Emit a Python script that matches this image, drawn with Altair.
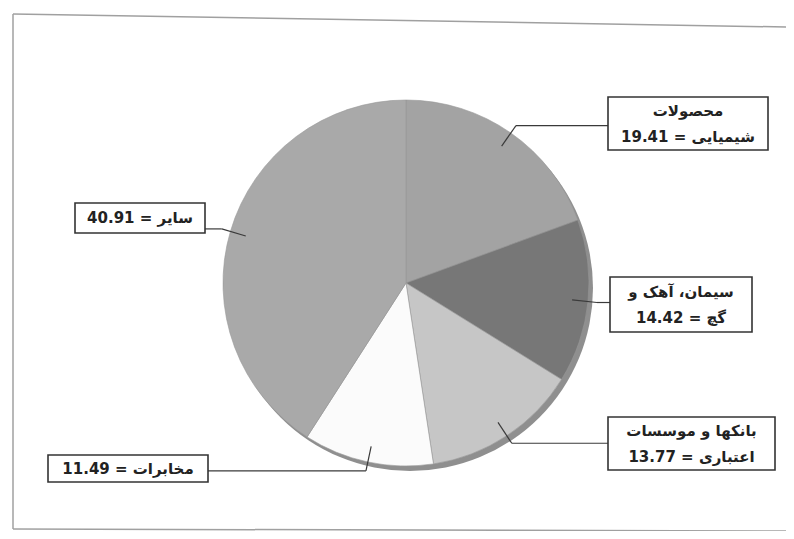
import math
import altair as alt
import pandas as pd

# ---- data ----
labels = ["محصولات شیمیایی", "سیمان، آهک و گچ", "بانکها و موسسات اعتباری", "مخابرات", "سایر"]
label_text = [
    "محصولات\nشیمیایی = 19.41",
    "سیمان، آهک و\nگچ = 14.42",
    "بانکها و موسسات\nاعتباری = 13.77",
    "مخابرات = 11.49",
    "سایر = 40.91",
]
values = [19.41, 14.42, 13.77, 11.49, 40.91]

# ---- styles / layout (page pixel coordinates) ----
colors = ["#a3a3a3", "#777777", "#c6c6c6", "#fbfbfb", "#a9a9a9"]
cx, cy, R = 406, 283, 183
box_x0 = [608, 610, 608, 48, 75]
box_x1 = [768, 752, 775, 208, 205]
box_y0 = [97, 277, 417, 455, 203]
box_y1 = [150, 332, 470, 482, 233]
side = ["right", "right", "right", "left", "left"]
line_h = 26

W, H = 778, 523
xs = alt.Scale(domain=[8, 8 + W], range=[0, W], nice=False, zero=False)
ys = alt.Scale(domain=[8, 8 + H], range=[0, H], nice=False, zero=False)

total = sum(values)
df = pd.DataFrame({"label": labels, "value": values, "idx": list(range(len(labels))),
                   "cx": cx, "cy": cy})

# leader lines derived from slice mid-angles
segs = []
cum = 0.0
for i, v in enumerate(values):
    mid = (cum + v / 2) / total * 2 * math.pi
    cum += v
    ix, iy = cx + 167 * math.sin(mid), cy - 167 * math.cos(mid)
    ex, ey = cx + 192 * math.sin(mid), cy - 192 * math.cos(mid)
    bx = box_x0[i] if side[i] == "right" else box_x1[i]
    segs.append({"x": ix, "y": iy, "x2": ex, "y2": ey})
    segs.append({"x": ex, "y": ey, "x2": bx, "y2": ey})
seg_df = pd.DataFrame(segs)

nlines = [t.count("\n") + 1 for t in label_text]
box_df = pd.DataFrame({
    "x0": box_x0, "x1": box_x1, "y0": box_y0, "y1": box_y1,
    "xc": [(a + b) / 2 for a, b in zip(box_x0, box_x1)],
    "yt": [(a + b) / 2 - (n - 1) * line_h / 2 for a, b, n in zip(box_y0, box_y1, nlines)],
    "t": label_text,
})

frame_df = pd.DataFrame([
    {"x": 13, "y": 14, "x2": 786, "y2": 27},
    {"x": 13, "y": 14, "x2": 13, "y2": 529},
    {"x": 13, "y": 529, "x2": 786, "y2": 531},
])

frame = alt.Chart(frame_df).mark_rule(color="#a0a0a0", strokeWidth=1.5).encode(
    x=alt.X("x:Q", scale=xs, axis=None), y=alt.Y("y:Q", scale=ys, axis=None),
    x2="x2:Q", y2="y2:Q")

shadow = alt.Chart(pd.DataFrame({"sx": [cx + 4], "sy": [cy + 5]})).mark_arc(
    theta=0, theta2=2 * math.pi, radius=R, color="#8f8f8f").encode(
    x=alt.X("sx:Q", scale=xs, axis=None), y=alt.Y("sy:Q", scale=ys, axis=None))

pie = alt.Chart(df).transform_window(
    end="sum(value)", sort=[alt.SortField("idx")], frame=[None, 0]
).transform_calculate(start="datum.end - datum.value").mark_arc(
    radius=R, stroke="#999999", strokeWidth=0.6).encode(
    theta=alt.Theta("start:Q", scale=alt.Scale(domain=[0, total], range=[0, 2 * math.pi])),
    theta2="end:Q",
    color=alt.Color("label:N", scale=alt.Scale(domain=labels, range=colors), legend=None),
    x=alt.X("cx:Q", scale=xs, axis=None), y=alt.Y("cy:Q", scale=ys, axis=None),
)

leaders = alt.Chart(seg_df).mark_rule(color="#3a3a3a", strokeWidth=1.2).encode(
    x=alt.X("x:Q", scale=xs, axis=None), y=alt.Y("y:Q", scale=ys, axis=None),
    x2="x2:Q", y2="y2:Q")

boxes = alt.Chart(box_df).mark_rect(fill="white", stroke="#333333", strokeWidth=1.6).encode(
    x=alt.X("x0:Q", scale=xs, axis=None), x2="x1:Q",
    y=alt.Y("y0:Q", scale=ys, axis=None), y2="y1:Q")

texts = alt.Chart(box_df).mark_text(
    font="DejaVu Sans", fontSize=15, fontWeight="bold", color="#222222", lineBreak="\n",
    lineHeight=line_h, align="center", baseline="middle").encode(
    x=alt.X("xc:Q", scale=xs, axis=None), y=alt.Y("yt:Q", scale=ys, axis=None),
    text="t:N")

chart = alt.layer(frame, shadow, pie, leaders, boxes, texts).properties(
    width=W, height=H, padding=0, autosize=alt.AutoSizeParams(type="none"),
    background="white",
).configure_view(stroke=None)

chart.save("out.html", embed_options={"renderer": "svg", "actions": False})
